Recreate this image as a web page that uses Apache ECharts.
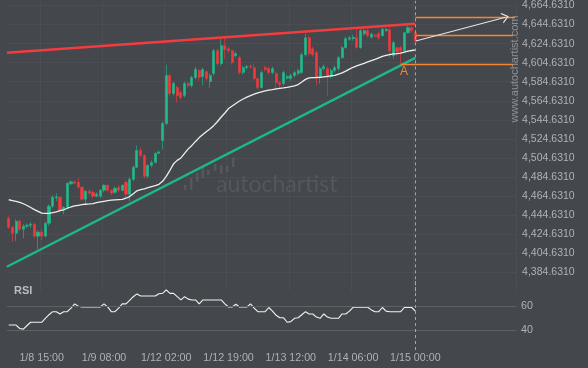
<!DOCTYPE html>
<html><head><meta charset="utf-8">
<script src="https://cdn.jsdelivr.net/npm/echarts@6/dist/echarts.min.js"></script>
<style>html,body{margin:0;padding:0;background:#44474c;}#c{width:588px;height:368px;}</style>
</head><body><div id="c"></div>
<script>
// ---- data ----
const timeLabels = ['1/8 15:00','1/9 08:00','1/12 02:00','1/12 19:00','1/13 12:00','1/14 06:00','1/15 00:00'];
const timeLabelIdx = [9,26,43,60,77,94,111];
const slotCount = 139;

const yTickValues = [4384.631,4404.631,4424.631,4444.631,4464.631,4484.631,4504.631,4524.631,4544.631,4564.631,4584.631,4604.631,4624.631,4644.631,4664.631];
const yTickLabels = ['4,384.6310','4,404.6310','4,424.6310','4,444.6310','4,464.6310','4,484.6310','4,504.6310','4,524.6310','4,544.6310','4,564.6310','4,584.6310','4,604.6310','4,624.6310','4,644.6310','4,664.6310'];

const open = [4441.4,4432.0,4425.7,4438.3,4429.9,4433.1,4434.1,4435.2,4422.6,4426.8,
4422.6,4436.2,4454.0,4462.9,4463.4,4449.8,4452.9,4477.5,4479.6,4479.1,
4473.9,4461.3,4469.7,4468.6,4464.5,4464.5,4470.7,4476.0,4470.7,4468.6,
4473.9,4470.7,4479.1,4466.6,4482.2,4494.8,4512.6,4507.4,4485.4,4496.9,
4500.0,4509.5,4523.1,4540.8,4591.1,4572.2,4578.5,4573.3,4570.1,4582.7,
4580.6,4589.0,4596.3,4590.0,4595.3,4584.8,4593.2,4617.2,4603.6,4622.5,
4619.3,4617.2,4612.0,4609.9,4594.2,4599.4,4601.0,4599.4,4587.9,4578.5,
4599.4,4598.4,4594.2,4593.2,4583.7,4582.7,4588.4,4587.9,4591.1,4593.2,
4594.2,4613.0,4630.8,4619.3,4615.1,4589.0,4598.4,4598.4,4590.0,4596.3,
4598.4,4609.9,4620.4,4629.3,4629.8,4630.8,4620.4,4635.0,4638.2,4631.4,
4633.5,4635.0,4632.9,4638.2,4639.2,4612.0,4620.4,4620.4,4617.2,4636.1,
4641.3,4636.1];
const close = [4432.0,4425.7,4438.3,4429.9,4433.1,4434.1,4435.2,4422.6,4426.8,4422.6,
4436.2,4454.0,4463.4,4463.9,4449.8,4452.9,4478.1,4479.6,4478.1,4473.9,
4461.3,4469.7,4467.6,4464.5,4466.6,4470.7,4476.0,4470.7,4467.6,4472.8,
4470.7,4476.0,4466.6,4482.2,4494.8,4512.6,4507.4,4485.4,4496.9,4500.0,
4509.5,4511.0,4540.8,4591.1,4572.2,4582.7,4570.1,4568.1,4582.7,4580.6,
4589.0,4597.4,4589.0,4597.4,4587.9,4591.1,4617.2,4603.6,4622.5,4618.3,
4617.2,4604.7,4614.1,4594.2,4599.4,4600.5,4599.9,4587.9,4578.5,4594.2,
4597.4,4594.2,4598.4,4583.7,4581.7,4594.2,4590.0,4591.1,4594.2,4596.3,
4613.0,4630.8,4614.1,4613.0,4589.0,4598.4,4600.5,4589.0,4596.3,4599.4,
4609.9,4620.4,4629.8,4630.8,4631.4,4620.4,4638.2,4638.2,4632.9,4634.5,
4632.4,4630.8,4639.7,4639.7,4617.2,4625.6,4616.2,4617.2,4636.1,4641.3,
4638.2,4627.2];
const high = [4443.5,4433.1,4440.4,4440.4,4435.2,4436.2,4437.3,4436.2,4428.9,4429.9,
4437.3,4456.1,4465.5,4467.6,4464.5,4454.0,4479.1,4481.2,4481.2,4483.6,
4474.9,4470.7,4471.8,4470.7,4468.6,4471.8,4477.0,4477.0,4471.8,4474.9,
4476.0,4477.0,4481.2,4484.3,4496.9,4517.8,4515.7,4508.4,4497.9,4502.1,
4510.5,4512.6,4542.9,4602.6,4593.2,4584.8,4580.6,4575.4,4584.8,4584.8,
4591.1,4600.5,4598.4,4599.4,4596.3,4593.2,4619.3,4619.3,4629.8,4630.8,
4621.4,4618.3,4616.2,4612.0,4601.5,4602.6,4602.6,4603.6,4589.0,4596.3,
4601.5,4600.5,4600.5,4595.3,4585.8,4596.3,4592.1,4593.2,4596.3,4598.4,
4615.1,4635.0,4632.9,4621.4,4617.2,4600.5,4602.6,4600.5,4598.4,4601.5,
4612.0,4622.5,4631.9,4632.9,4634.0,4639.2,4640.3,4640.3,4640.3,4636.1,
4635.0,4637.1,4641.3,4641.3,4641.3,4627.7,4621.4,4622.5,4637.1,4643.4,
4642.3,4639.2];
const low = [4429.9,4416.3,4417.4,4427.8,4420.5,4431.0,4431.0,4420.5,4409.0,4418.4,
4421.6,4433.1,4451.9,4459.2,4447.7,4445.6,4451.9,4476.0,4477.0,4472.8,
4460.3,4455.0,4465.5,4462.4,4463.4,4462.4,4468.6,4468.6,4465.5,4466.6,
4468.6,4469.7,4461.3,4459.2,4480.2,4493.8,4505.3,4483.3,4483.3,4494.8,
4499.0,4508.4,4513.6,4538.8,4569.1,4570.1,4562.8,4566.0,4568.1,4578.5,
4578.5,4586.9,4585.8,4580.6,4585.8,4578.5,4591.1,4601.5,4601.5,4608.9,
4615.1,4602.6,4609.9,4592.1,4592.1,4597.4,4598.4,4585.8,4576.4,4577.5,
4595.3,4592.1,4592.1,4575.4,4577.5,4580.6,4586.9,4585.8,4589.0,4591.1,
4593.2,4611.0,4612.0,4611.0,4580.6,4582.7,4596.3,4570.1,4587.9,4594.2,
4596.3,4608.9,4619.3,4627.7,4627.7,4619.3,4619.3,4632.9,4630.8,4629.8,
4630.8,4628.7,4631.9,4637.1,4609.9,4608.9,4612.0,4602.9,4616.2,4635.0,
4636.1,4626.6];
const movingAvg = [4460.8,4460.0,4459.0,4458.0,4456.6,4454.8,4452.7,4450.5,4448.6,4446.7,
4446.4,4446.4,4447.2,4448.2,4449.3,4450.3,4451.9,4453.2,4454.3,4455.0,
4455.6,4456.1,4456.4,4456.8,4457.7,4458.5,4459.2,4459.9,4460.3,4460.7,
4461.0,4461.3,4462.4,4464.1,4467.1,4470.2,4471.3,4472.3,4473.4,4474.6,
4475.7,4477.0,4480.2,4485.4,4491.7,4498.5,4502.1,4504.7,4509.5,4514.2,
4517.8,4522.0,4526.0,4529.3,4532.5,4535.4,4538.8,4542.9,4547.6,4551.8,
4556.5,4559.2,4561.8,4564.4,4566.5,4568.4,4570.1,4571.7,4573.0,4574.1,
4575.1,4575.8,4576.4,4577.2,4577.7,4578.2,4578.8,4579.6,4580.2,4581.7,
4584.3,4587.1,4588.7,4589.0,4589.1,4589.3,4589.8,4590.2,4590.8,4591.3,
4592.6,4594.0,4595.8,4597.9,4599.8,4601.2,4602.6,4603.9,4605.4,4606.8,
4608.2,4609.7,4611.2,4612.2,4613.0,4613.8,4614.1,4614.6,4615.7,4616.7,
4617.4,4618.0];
const rsi = [44.4,44.4,44.4,41.5,41,44,46.7,46.7,46.7,46.7,
50,53,55.5,55.5,53.6,55.5,55.5,58.5,62,60,
59.4,59.4,59.4,59.4,59.4,59.4,62,59.5,55.5,55.5,
58.5,62,62,65,68,70.3,68.6,68.6,68.6,68.6,
68.6,70.5,70.8,73.6,70.8,70.8,68,65.3,68,66,
65.3,65.3,62,65.3,65.3,65.3,65.3,65.3,65.3,62,
59.4,59.4,61.7,59.4,59.4,59.4,62,58.5,55.5,55.5,
55.5,59,56,52.5,50.5,50.5,46.7,47.2,50,50.5,
53,55.5,53.6,53.6,51,50,53.6,51,50,50,
50,53.6,53.6,56,59.2,59.2,59.2,59.2,59.2,57,
55.5,55.5,59,56,55.5,55.5,55.5,55.5,59,59,
59,56];
const rsiLevels = [40, 60];

// trend lines / pattern levels (x in bar index units, y in price)
const resistanceLine = [[-0.5, 4615.1], [111, 4645.6]];
const supportLine = [[-0.5, 4390.5], [111, 4609.6]];
const levelTop = 4652.8, levelMid = 4633.7, levelLow = 4602.9;
const levelStartTop = 111, levelStartLow = 107, levelEnd = 138.2;
const pointA = [107.9, 4595.3];
const projFrom = [111.1, 4627.4], projTo = [135.6, 4652.3];
const lastBar = 111;

// ---- chart ----
const cats = Array.from({length: slotCount}, (_, i) => String(i));
const candleData = open.map((o, i) => [o, close[i], low[i], high[i]]);
const GREEN = '#1fbc8c', RED = '#f2393c', ORANGE = '#f5862f';
const gridL = 6.9, gridR = 71.9;

const chart = echarts.init(document.getElementById('c'));
chart.setOption({
  animation: false,
  backgroundColor: '#44474c',
  grid: [
    {left: gridL, right: gridR, top: 0, height: 291.4},
    {left: gridL, right: gridR, top: 280, height: 70}
  ],
  xAxis: [
    {type: 'category', gridIndex: 0, data: cats, boundaryGap: true,
     axisLine: {show: false}, axisTick: {show: false}, axisLabel: {show: false},
     splitLine: {show: true, interval: (i) => timeLabelIdx.includes(i), lineStyle: {color: 'rgba(255,255,255,0.035)'}}},
    {type: 'category', gridIndex: 1, data: cats, boundaryGap: true,
     axisLine: {show: false}, axisTick: {show: false},
     axisLabel: {show: true, interval: (i) => timeLabelIdx.includes(i), margin: 3,
       formatter: (v) => { const k = timeLabelIdx.indexOf(+v); return k >= 0 ? timeLabels[k] : ''; },
       color: '#aeb1b5', fontSize: 10.7, fontFamily: 'Liberation Sans'},
     splitLine: {show: false}},
    {type: 'value', gridIndex: 0, min: -0.5, max: slotCount - 0.5, show: false}
  ],
  yAxis: [
    {type: 'value', gridIndex: 0, position: 'right', min: 4364.631, max: 4669.55, interval: 20,
     axisLine: {show: false}, axisTick: {show: false},
     axisLabel: {show: true, margin: 6, showMinLabel: false, showMaxLabel: false,
       color: '#aeb1b5', fontSize: 10.5, fontFamily: 'Liberation Sans',
       formatter: (v) => { let best = ''; yTickValues.forEach((t, k) => { if (Math.abs(t - v) < 1) best = yTickLabels[k]; }); return best; }},
     splitLine: {show: true, showMinLine: false, showMaxLine: false, lineStyle: {color: 'rgba(255,255,255,0.035)'}}},
    {type: 'value', gridIndex: 1, min: 23.6, max: 81.9, show: false}
  ],
  graphic: [
    {type: 'text', x: 14, y: 291, style: {text: 'RSI', fill: '#b9bcc1', font: 'bold 11px "Liberation Sans"', verticalAlign: 'middle'}},
    {type: 'text', x: 515, y: 69, rotation: Math.PI / 2, style: {text: 'www.autochartist.com', fill: '#8d9095', font: '11px "Liberation Sans"', align: 'center', verticalAlign: 'middle'}},
    {type: 'text', x: 216, y: 185, z: -1, style: {text: 'autochartist', fill: '#54575c', font: '23px Lato', verticalAlign: 'middle'}},
    {type: 'group', z: -1, children: [
      {type: 'rect', shape: {x: 184, y: 185, width: 2.5, height: 5}, style: {fill: '#54575c'}},
      {type: 'rect', shape: {x: 190, y: 178, width: 2.5, height: 12}, style: {fill: '#54575c'}},
      {type: 'rect', shape: {x: 196, y: 173, width: 2.5, height: 9}, style: {fill: '#54575c'}},
      {type: 'rect', shape: {x: 201.5, y: 167, width: 2.5, height: 11}, style: {fill: '#54575c'}},
      {type: 'rect', shape: {x: 207, y: 170, width: 2.5, height: 5}, style: {fill: '#54575c'}},
      {type: 'rect', shape: {x: 214, y: 164, width: 2.5, height: 7}, style: {fill: '#54575c'}},
      {type: 'rect', shape: {x: 220, y: 165, width: 2.5, height: 9}, style: {fill: '#54575c'}},
      {type: 'rect', shape: {x: 226, y: 166, width: 2.5, height: 6}, style: {fill: '#54575c'}},
      {type: 'rect', shape: {x: 232, y: 158, width: 2.5, height: 9}, style: {fill: '#54575c'}}
    ]}
  ],
  series: [
    {type: 'candlestick', xAxisIndex: 0, yAxisIndex: 0, data: candleData, barWidth: 2.6,
     itemStyle: {color: GREEN, color0: RED, borderColor: GREEN, borderColor0: RED, borderWidth: 0.6},
     markLine: {silent: true, symbol: ['none', 'none'], label: {show: false},
       lineStyle: {color: '#a3a6ab', type: [3, 3], width: 1}, data: [{xAxis: lastBar}]}},
    {type: 'line', xAxisIndex: 0, yAxisIndex: 0, data: movingAvg, showSymbol: false, symbol: 'none',
     lineStyle: {color: '#eeeeee', width: 1.3}},
    {type: 'line', xAxisIndex: 2, yAxisIndex: 0, data: resistanceLine, showSymbol: false, symbol: 'none',
     lineStyle: {color: '#f23c3f', width: 2.5}},
    {type: 'line', xAxisIndex: 2, yAxisIndex: 0, data: supportLine, showSymbol: false, symbol: 'none',
     lineStyle: {color: '#1db88a', width: 2.5}},
    {type: 'line', xAxisIndex: 2, yAxisIndex: 0, data: [[levelStartTop, levelMid]], showSymbol: false, symbol: 'none',
     lineStyle: {opacity: 0},
     markLine: {silent: true, symbol: ['none', 'none'], label: {show: false},
       lineStyle: {color: ORANGE, width: 1.3, type: 'solid'},
       data: [
         [{coord: [levelStartTop, levelTop]}, {coord: [levelEnd, levelTop]}],
         [{coord: [levelStartTop, levelMid]}, {coord: [levelEnd - 0.5, levelMid]}],
         [{coord: [levelStartLow, levelLow]}, {coord: [levelEnd - 0.5, levelLow]}],
         [{coord: projFrom, symbol: 'none', lineStyle: {color: '#e4e4e4', width: 1.2}},
          {coord: projTo, symbol: 'path://M0,10 L5,0 L10,10 L8.6,10 L5,2.8 L1.4,10 Z', symbolSize: [11, 7], lineStyle: {color: '#e4e4e4', width: 1.2}}]
       ]},
     markPoint: {silent: true, data: [{coord: pointA, symbol: 'circle', symbolSize: 0,
       label: {show: true, position: 'inside', formatter: 'A', color: ORANGE, fontSize: 12, fontFamily: 'Liberation Sans'}}]}},
    {type: 'line', xAxisIndex: 1, yAxisIndex: 1, data: rsi, showSymbol: false, symbol: 'none',
     lineStyle: {color: '#f2f2f2', width: 1.1},
     markLine: {silent: true, symbol: ['none', 'none'],
       data: [
         {yAxis: rsiLevels[0], lineStyle: {color: '#5d6065', width: 1, type: 'solid'},
          label: {show: true, position: 'end', formatter: String(rsiLevels[0]), color: '#aeb1b5', fontSize: 10.7, fontFamily: 'Liberation Sans', distance: 5}},
         {yAxis: rsiLevels[1], lineStyle: {color: '#5d6065', width: 1, type: 'solid'},
          label: {show: true, position: 'end', formatter: String(rsiLevels[1]), color: '#aeb1b5', fontSize: 10.7, fontFamily: 'Liberation Sans', distance: 5}},
         {xAxis: lastBar, lineStyle: {color: '#a3a6ab', width: 1, type: [3, 3]}, label: {show: false}}
       ]}}
  ]
});
</script></body></html>
